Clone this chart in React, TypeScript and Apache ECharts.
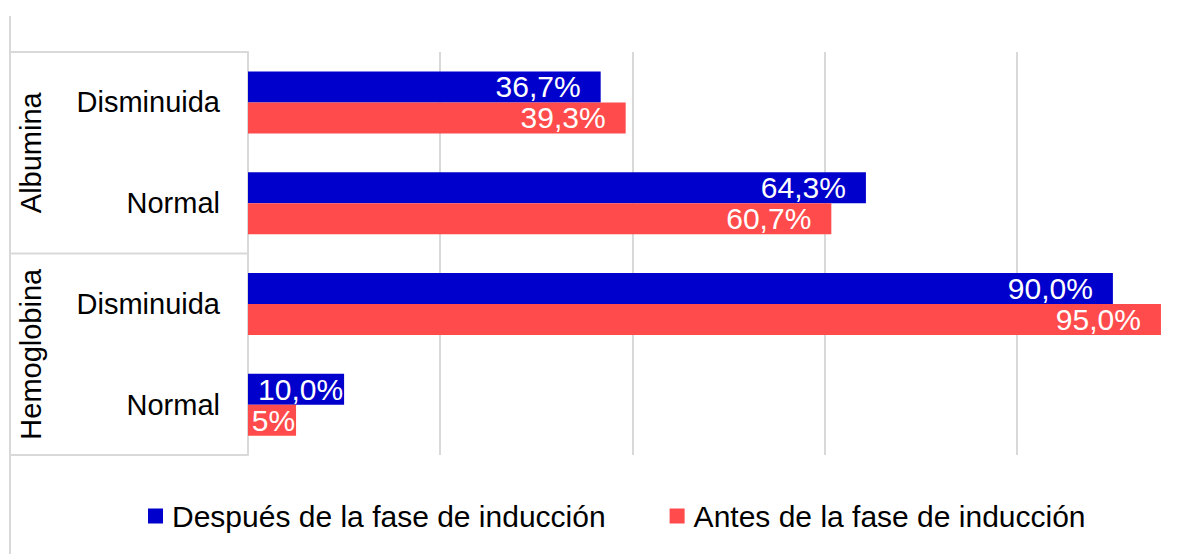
import React, { useEffect, useRef } from "react";
import * as echarts from "echarts";

const groups = ["Albumina", "Hemoglobina"];
const categories = [
  "Albumina|Disminuida",
  "Albumina|Normal",
  "Hemoglobina|Disminuida",
  "Hemoglobina|Normal",
];
const seriesNames = ["Después de la fase de inducción", "Antes de la fase de inducción"];
const despues = [36.7, 64.3, 90.0, 10.0];
const antes = [39.3, 60.7, 95.0, 5];
const despuesLabels = ["36,7%", "64,3%", "90,0%", "10,0%"];
const antesLabels = ["39,3%", "60,7%", "95,0%", "5%"];
const xMin = 0;
const xMax = 100;
const xInterval = 20;

const FONT = "'Liberation Sans', Arial, sans-serif";
const GRID_COLOR = "#d9d9d9";
const BLUE = "#0000cc";
const RED = "#ff4b4b";
const FS_CAT = 29;
const FS_LABEL = 30;
const FS_LEGEND = 30;
const INNER_W = 1230;

function makeData(values: number[], labels: string[]) {
  return values.map((v, i) => ({
    value: v,
    label: {
      formatter: labels[i],
      distance: v < 15 ? 1 : 20,
    },
  }));
}

export default function App() {
  const ref = useRef<HTMLDivElement>(null);
  useEffect(() => {
    if (!ref.current) return;
    const chart = echarts.init(ref.current, undefined, { renderer: "svg" });
    const labelBase = {
      show: true,
      position: "insideRight",
      color: "#ffffff",
      fontSize: FS_LABEL,
      fontFamily: FONT,
    };
    chart.setOption({
      animation: false,
      textStyle: { fontFamily: FONT },
      grid: { left: 248, right: INNER_W - 1209, top: 52, bottom: 99, containLabel: false },
      xAxis: {
        type: "value",
        min: xMin,
        max: xMax,
        interval: xInterval,
        axisLabel: { show: false },
        axisLine: { show: false },
        axisTick: { show: false },
        splitLine: { show: true, lineStyle: { color: GRID_COLOR, width: 2 } },
      },
      yAxis: {
        type: "category",
        inverse: true,
        data: categories,
        axisLine: { show: true, lineStyle: { color: GRID_COLOR, width: 2 } },
        axisTick: { show: false },
        axisLabel: {
          formatter: (v: string) => v.split("|")[1],
          color: "#000000",
          fontSize: FS_CAT,
          fontFamily: FONT,
          margin: 28,
        },
      },
      legend: {
        data: seriesNames,
        left: 148,
        top: 501,
        padding: 0,
        icon: "rect",
        itemWidth: 15,
        itemHeight: 15,
        itemGap: 64,
        textStyle: {
          color: "#000000",
          fontSize: FS_LEGEND,
          fontFamily: FONT,
          padding: [0, 0, 0, 4],
        },
      },
      series: [
        {
          name: seriesNames[0],
          type: "bar",
          data: makeData(despues, despuesLabels),
          itemStyle: { color: BLUE },
          barWidth: 31,
          barGap: "0%",
          label: labelBase,
        },
        {
          name: seriesNames[1],
          type: "bar",
          data: makeData(antes, antesLabels),
          itemStyle: { color: RED },
          barWidth: 31,
          barGap: "0%",
          label: labelBase,
        },
      ],
    });

    const c0 = chart.convertToPixel({ yAxisIndex: 0 }, 0) as number;
    const c1 = chart.convertToPixel({ yAxisIndex: 0 }, 1) as number;
    const bw = c1 - c0;
    const top = c0 - bw / 2;
    const axisX = chart.convertToPixel({ xAxisIndex: 0 }, xMin) as number;
    const tableLeft = 10;
    const lineStyle = { stroke: GRID_COLOR, lineWidth: 2 };
    const graphics: any[] = [
      {
        type: "line",
        shape: { x1: tableLeft, y1: 16, x2: tableLeft, y2: 554 },
        style: lineStyle,
        silent: true,
      },
    ];
    [0, 2, 4].forEach((k) => {
      const y = top + k * bw;
      graphics.push({
        type: "line",
        shape: { x1: tableLeft, y1: y, x2: axisX, y2: y },
        style: lineStyle,
        silent: true,
      });
    });
    groups.forEach((g, gi) => {
      graphics.push({
        type: "text",
        x: 31,
        y: top + (2 * gi + 1) * bw,
        rotation: Math.PI / 2,
        style: {
          text: g,
          fontSize: FS_CAT,
          fontFamily: FONT,
          fill: "#000000",
          align: "center",
          verticalAlign: "middle",
        },
        silent: true,
      });
    });
    chart.setOption({ graphic: graphics });

    return () => chart.dispose();
  }, []);
  return (
    <div
      style={{
        position: "fixed",
        left: 0,
        top: 0,
        width: 1198,
        height: 554,
        overflow: "hidden",
        background: "#ffffff",
      }}
    >
      <div ref={ref} style={{ width: INNER_W, height: 554 }} />
    </div>
  );
}
